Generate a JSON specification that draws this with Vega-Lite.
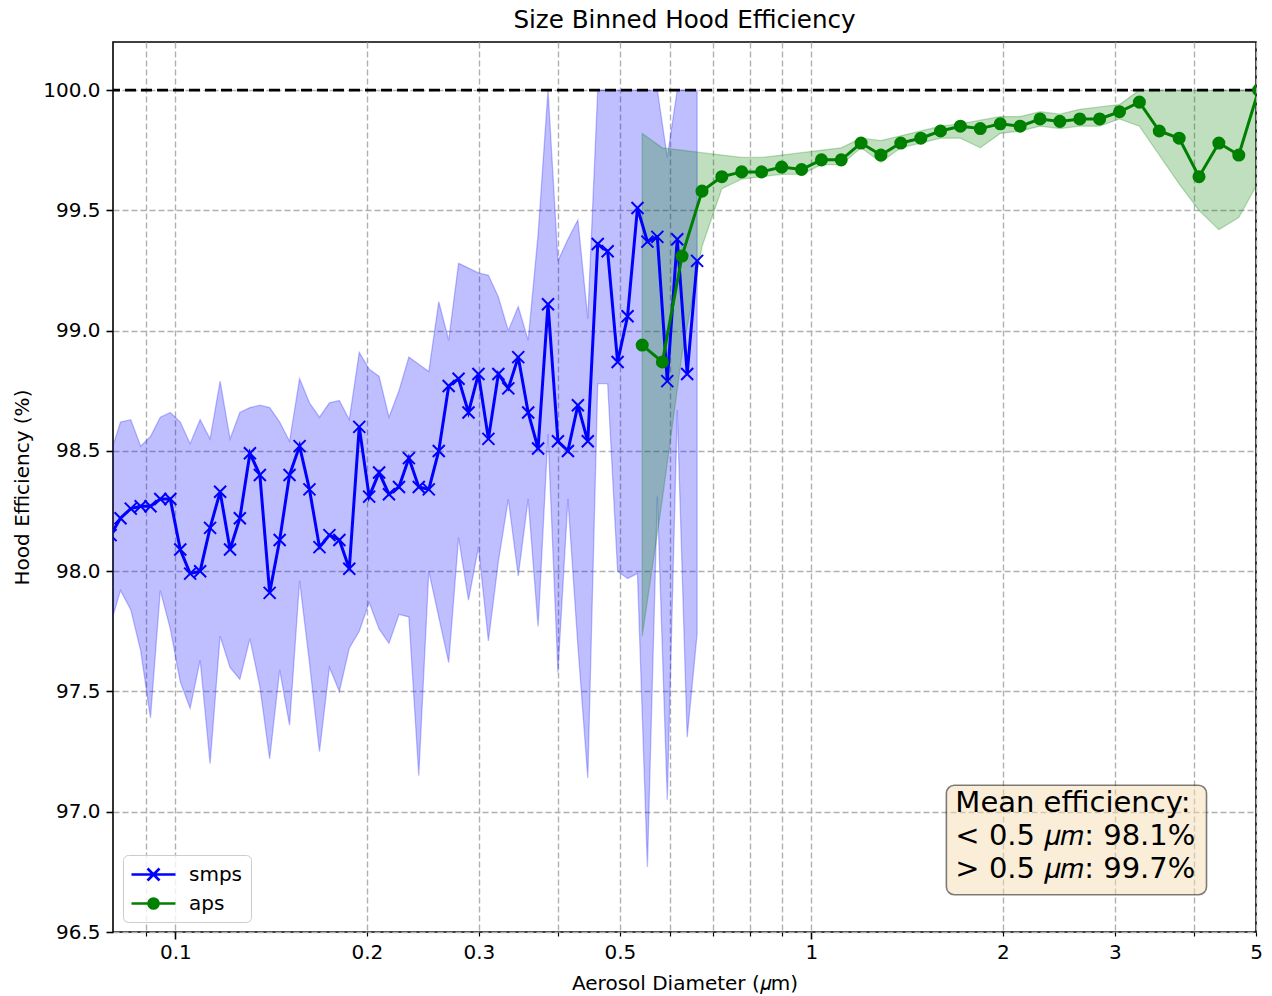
{
  "$schema": "https://vega.github.io/schema/vega-lite/v6.json",
  "width": 1143,
  "height": 890,
  "autosize": {"type": "none"},
  "padding": {"left": 113, "top": 42, "right": 16, "bottom": 64},
  "background": "white",
  "title": {"text": "Size Binned Hood Efficiency", "font": "DejaVu Sans", "fontSize": 24.6, "fontWeight": "normal", "color": "black", "offset": 8, "anchor": "middle"},
  "config": {
    "view": {"stroke": "black", "strokeWidth": 1.6},
    "axis": {
      "labelFont": "DejaVu Sans", "labelFontSize": 20, "labelColor": "black",
      "titleFont": "DejaVu Sans", "titleFontSize": 20, "titleFontWeight": "normal", "titleColor": "black",
      "tickColor": "black", "tickWidth": 1.6, "tickSize": 7, "domain": false,
      "grid": true, "gridColor": "#b0b0b0", "gridDash": [6, 3], "gridWidth": 1.4, "labelPadding": 6
    },
    "legend": {
      "orient": "bottom-left", "offset": 10, "labelFont": "DejaVu Sans", "labelFontSize": 20, "labelColor": "black",
      "fillColor": "rgba(255,255,255,0.8)", "strokeColor": "#cccccc", "cornerRadius": 5, "padding": 8,
      "rowPadding": 6, "symbolOffset": 11, "labelOffset": 24, "symbolSize": 400, "symbolStrokeWidth": 2.7
    }
  },
  "datasets": {
    "smps": [
      {"d": 0.0791, "eff": 98.15, "lo": 97.78, "hi": 98.49},
      {"d": 0.0820, "eff": 98.22, "lo": 97.92, "hi": 98.62},
      {"d": 0.0851, "eff": 98.26, "lo": 97.84, "hi": 98.63},
      {"d": 0.0882, "eff": 98.27, "lo": 97.67, "hi": 98.52},
      {"d": 0.0914, "eff": 98.27, "lo": 97.39, "hi": 98.56},
      {"d": 0.0947, "eff": 98.30, "lo": 97.92, "hi": 98.64},
      {"d": 0.0982, "eff": 98.30, "lo": 97.76, "hi": 98.66},
      {"d": 0.1018, "eff": 98.09, "lo": 97.54, "hi": 98.62},
      {"d": 0.1055, "eff": 97.99, "lo": 97.43, "hi": 98.53},
      {"d": 0.1094, "eff": 98.00, "lo": 97.63, "hi": 98.63},
      {"d": 0.1134, "eff": 98.18, "lo": 97.20, "hi": 98.55},
      {"d": 0.1176, "eff": 98.33, "lo": 97.73, "hi": 98.79},
      {"d": 0.1219, "eff": 98.09, "lo": 97.60, "hi": 98.55},
      {"d": 0.1263, "eff": 98.22, "lo": 97.55, "hi": 98.66},
      {"d": 0.1310, "eff": 98.49, "lo": 97.72, "hi": 98.68},
      {"d": 0.1358, "eff": 98.40, "lo": 97.52, "hi": 98.69},
      {"d": 0.1407, "eff": 97.91, "lo": 97.22, "hi": 98.68},
      {"d": 0.1459, "eff": 98.13, "lo": 97.59, "hi": 98.62},
      {"d": 0.1512, "eff": 98.40, "lo": 97.36, "hi": 98.54},
      {"d": 0.1568, "eff": 98.52, "lo": 97.96, "hi": 98.80},
      {"d": 0.1625, "eff": 98.34, "lo": 97.62, "hi": 98.70},
      {"d": 0.1685, "eff": 98.10, "lo": 97.25, "hi": 98.64},
      {"d": 0.1747, "eff": 98.15, "lo": 97.60, "hi": 98.70},
      {"d": 0.1811, "eff": 98.13, "lo": 97.50, "hi": 98.71},
      {"d": 0.1877, "eff": 98.01, "lo": 97.68, "hi": 98.63},
      {"d": 0.1946, "eff": 98.60, "lo": 97.75, "hi": 98.91},
      {"d": 0.2017, "eff": 98.31, "lo": 97.87, "hi": 98.84},
      {"d": 0.2091, "eff": 98.41, "lo": 97.76, "hi": 98.81},
      {"d": 0.2167, "eff": 98.32, "lo": 97.70, "hi": 98.64},
      {"d": 0.2247, "eff": 98.35, "lo": 97.82, "hi": 98.75},
      {"d": 0.2329, "eff": 98.47, "lo": 97.81, "hi": 98.89},
      {"d": 0.2414, "eff": 98.35, "lo": 97.15, "hi": 98.86},
      {"d": 0.2503, "eff": 98.34, "lo": 98.00, "hi": 98.83},
      {"d": 0.2595, "eff": 98.50, "lo": 97.81, "hi": 99.12},
      {"d": 0.2690, "eff": 98.77, "lo": 97.62, "hi": 98.96},
      {"d": 0.2788, "eff": 98.80, "lo": 98.14, "hi": 99.28},
      {"d": 0.2890, "eff": 98.66, "lo": 97.88, "hi": 99.26},
      {"d": 0.2996, "eff": 98.82, "lo": 98.10, "hi": 99.24},
      {"d": 0.3106, "eff": 98.55, "lo": 97.71, "hi": 99.23},
      {"d": 0.3220, "eff": 98.82, "lo": 98.04, "hi": 99.14},
      {"d": 0.3338, "eff": 98.76, "lo": 98.30, "hi": 99.00},
      {"d": 0.3460, "eff": 98.89, "lo": 97.98, "hi": 99.10},
      {"d": 0.3587, "eff": 98.66, "lo": 98.30, "hi": 98.96},
      {"d": 0.3718, "eff": 98.51, "lo": 97.77, "hi": 99.40},
      {"d": 0.3854, "eff": 99.11, "lo": 98.57, "hi": 100.0},
      {"d": 0.3995, "eff": 98.54, "lo": 97.58, "hi": 99.29},
      {"d": 0.4142, "eff": 98.50, "lo": 98.30, "hi": 99.38},
      {"d": 0.4294, "eff": 98.69, "lo": 97.69, "hi": 99.46},
      {"d": 0.4451, "eff": 98.54, "lo": 97.14, "hi": 99.05},
      {"d": 0.4614, "eff": 99.36, "lo": 98.78, "hi": 100.0},
      {"d": 0.4783, "eff": 99.33, "lo": 98.78, "hi": 100.0},
      {"d": 0.4958, "eff": 98.87, "lo": 98.00, "hi": 100.0},
      {"d": 0.5140, "eff": 99.06, "lo": 97.97, "hi": 100.0},
      {"d": 0.5328, "eff": 99.51, "lo": 97.99, "hi": 100.0},
      {"d": 0.5523, "eff": 99.37, "lo": 96.77, "hi": 100.0},
      {"d": 0.5725, "eff": 99.39, "lo": 98.31, "hi": 100.0},
      {"d": 0.5935, "eff": 98.79, "lo": 97.05, "hi": 99.72},
      {"d": 0.6153, "eff": 99.38, "lo": 98.67, "hi": 100.0},
      {"d": 0.6378, "eff": 98.82, "lo": 97.31, "hi": 100.0},
      {"d": 0.6612, "eff": 99.29, "lo": 97.74, "hi": 100.0}
    ],
    "aps": [
      {"d": 0.542, "eff": 98.94, "lo": 97.73, "hi": 99.82},
      {"d": 0.583, "eff": 98.87, "lo": 98.30, "hi": 99.76},
      {"d": 0.626, "eff": 99.31, "lo": 98.90, "hi": 99.75},
      {"d": 0.673, "eff": 99.58, "lo": 99.35, "hi": 99.74},
      {"d": 0.723, "eff": 99.64, "lo": 99.59, "hi": 99.73},
      {"d": 0.777, "eff": 99.66, "lo": 99.63, "hi": 99.72},
      {"d": 0.835, "eff": 99.66, "lo": 99.64, "hi": 99.72},
      {"d": 0.898, "eff": 99.68, "lo": 99.65, "hi": 99.73},
      {"d": 0.965, "eff": 99.67, "lo": 99.65, "hi": 99.74},
      {"d": 1.037, "eff": 99.71, "lo": 99.69, "hi": 99.75},
      {"d": 1.114, "eff": 99.71, "lo": 99.69, "hi": 99.76},
      {"d": 1.197, "eff": 99.78, "lo": 99.76, "hi": 99.80},
      {"d": 1.286, "eff": 99.73, "lo": 99.70, "hi": 99.79},
      {"d": 1.382, "eff": 99.78, "lo": 99.76, "hi": 99.81},
      {"d": 1.486, "eff": 99.80, "lo": 99.78, "hi": 99.83},
      {"d": 1.596, "eff": 99.83, "lo": 99.80, "hi": 99.85},
      {"d": 1.715, "eff": 99.85, "lo": 99.80, "hi": 99.86},
      {"d": 1.843, "eff": 99.84, "lo": 99.76, "hi": 99.875},
      {"d": 1.981, "eff": 99.86, "lo": 99.82, "hi": 99.89},
      {"d": 2.129, "eff": 99.85, "lo": 99.83, "hi": 99.89},
      {"d": 2.288, "eff": 99.88, "lo": 99.85, "hi": 99.91},
      {"d": 2.458, "eff": 99.87, "lo": 99.84, "hi": 99.90},
      {"d": 2.642, "eff": 99.88, "lo": 99.85, "hi": 99.92},
      {"d": 2.839, "eff": 99.88, "lo": 99.85, "hi": 99.93},
      {"d": 3.051, "eff": 99.91, "lo": 99.88, "hi": 99.94},
      {"d": 3.278, "eff": 99.95, "lo": 99.85, "hi": 100.0},
      {"d": 3.523, "eff": 99.83, "lo": 99.73, "hi": 100.0},
      {"d": 3.786, "eff": 99.80, "lo": 99.61, "hi": 100.0},
      {"d": 4.068, "eff": 99.64, "lo": 99.50, "hi": 100.0},
      {"d": 4.371, "eff": 99.78, "lo": 99.42, "hi": 100.0},
      {"d": 4.698, "eff": 99.73, "lo": 99.47, "hi": 100.0},
      {"d": 5.048, "eff": 100.0, "lo": 99.62, "hi": 100.0}
    ]
  },
  "layer": [
    {
      "data": {"name": "smps"},
      "mark": {"type": "area", "color": "#0000ff", "fillOpacity": 0.25, "stroke": "#0000ff", "strokeOpacity": 0.25, "strokeWidth": 1.3, "clip": true},
      "encoding": {
        "x": {"field": "d", "type": "quantitative",
          "scale": {"type": "log", "domain": [0.0798, 5], "nice": false},
          "axis": {
            "title": "Aerosol Diameter (𝜇m)", "titlePadding": 11,
            "values": [0.09, 0.1, 0.2, 0.3, 0.4, 0.5, 0.6, 0.7, 0.8, 0.9, 1, 2, 3, 4, 5],
            "format": "~g", "labelFlush": false, "labelOverlap": false, "labelBound": false,
            "labelExpr": "indexof([0.1,0.2,0.3,0.5,1,2,3,5], datum.value) >= 0 ? datum.label : ''",
            "tickSize": {"condition": {"test": "datum.value == 0.1 || datum.value == 1", "value": 7}, "value": 4},
            "tickWidth": {"condition": {"test": "datum.value == 0.1 || datum.value == 1", "value": 1.6}, "value": 1.2},
            "labelPadding": {"condition": {"test": "datum.value == 0.1 || datum.value == 1", "value": 3}, "value": 6}
          }},
        "y": {"field": "lo", "type": "quantitative",
          "scale": {"domain": [96.5, 100.2], "nice": false, "zero": false},
          "axis": {"title": "Hood Efficiency (%)", "titlePadding": 10, "values": [96.5, 97, 97.5, 98, 98.5, 99, 99.5, 100], "format": ".1f"}},
        "y2": {"field": "hi"}
      }
    },
    {
      "data": {"name": "aps"},
      "mark": {"type": "area", "color": "#008000", "fillOpacity": 0.25, "stroke": "#008000", "strokeOpacity": 0.25, "strokeWidth": 1.3, "clip": true},
      "encoding": {
        "x": {"field": "d", "type": "quantitative", "scale": {"type": "log", "domain": [0.0798, 5], "nice": false}},
        "y": {"field": "lo", "type": "quantitative", "scale": {"domain": [96.5, 100.2], "nice": false, "zero": false}},
        "y2": {"field": "hi"}
      }
    },
    {
      "data": {"values": [{"ref": 100}]},
      "mark": {"type": "rule", "color": "black", "strokeDash": [11, 5], "strokeWidth": 2.8},
      "encoding": {
        "y": {"field": "ref", "type": "quantitative", "scale": {"domain": [96.5, 100.2], "nice": false, "zero": false}}
      }
    },
    {
      "data": {"name": "smps"},
      "mark": {"type": "line", "color": "#0000ff", "strokeWidth": 3, "clip": true},
      "encoding": {
        "x": {"field": "d", "type": "quantitative", "scale": {"type": "log", "domain": [0.0798, 5], "nice": false}},
        "y": {"field": "eff", "type": "quantitative", "scale": {"domain": [96.5, 100.2], "nice": false, "zero": false}}
      }
    },
    {
      "data": {"name": "smps"},
      "mark": {"type": "point", "shape": "M-1,-1L1,1M-1,1L1,-1", "size": 144, "filled": false, "color": "#0000ff", "strokeWidth": 2, "opacity": 1, "clip": true},
      "encoding": {
        "x": {"field": "d", "type": "quantitative", "scale": {"type": "log", "domain": [0.0798, 5], "nice": false}},
        "y": {"field": "eff", "type": "quantitative", "scale": {"domain": [96.5, 100.2], "nice": false, "zero": false}}
      }
    },
    {
      "data": {"name": "aps"},
      "mark": {"type": "line", "color": "#008000", "strokeWidth": 3, "clip": true},
      "encoding": {
        "x": {"field": "d", "type": "quantitative", "scale": {"type": "log", "domain": [0.0798, 5], "nice": false}},
        "y": {"field": "eff", "type": "quantitative", "scale": {"domain": [96.5, 100.2], "nice": false, "zero": false}}
      }
    },
    {
      "data": {"name": "aps"},
      "mark": {"type": "point", "shape": "circle", "size": 170, "filled": true, "color": "#008000", "opacity": 1, "clip": true},
      "encoding": {
        "x": {"field": "d", "type": "quantitative", "scale": {"type": "log", "domain": [0.0798, 5], "nice": false}},
        "y": {"field": "eff", "type": "quantitative", "scale": {"domain": [96.5, 100.2], "nice": false, "zero": false}}
      }
    },
    {
      "data": {"values": []},
      "mark": {"type": "point", "filled": true, "size": 400, "opacity": 1, "strokeWidth": 2.7},
      "encoding": {
        "fill": {"field": "series", "type": "nominal",
          "scale": {"domain": ["smps", "aps"], "range": ["#0000ff", "#008000"]},
          "legend": {"title": null}},
        "stroke": {"field": "series", "type": "nominal",
          "scale": {"domain": ["smps", "aps"], "range": ["#0000ff", "#008000"]},
          "legend": {"title": null}},
        "shape": {"field": "series", "type": "nominal",
          "scale": {"domain": ["smps", "aps"], "range": [
            "M-2.2,0H2.2M-0.6,-0.6L0.6,0.6M-0.6,0.6L0.6,-0.6",
            "M-2.2,0H2.2M-0.5,0A0.5,0.5 0 1,1 0.5,0A0.5,0.5 0 1,1 -0.5,0Z"
          ]},
          "legend": {"title": null}}
      }
    },
    {
      "data": {"values": [{"note": "mean efficiency"}]},
      "mark": {"type": "rect", "fill": "#f5deb3", "fillOpacity": 0.5, "stroke": "black", "strokeOpacity": 0.5, "strokeWidth": 1.6, "cornerRadius": 8},
      "encoding": {
        "x": {"datum": 1.63, "type": "quantitative", "scale": {"type": "log", "domain": [0.0798, 5], "nice": false}},
        "x2": {"datum": 4.18},
        "y": {"datum": 97.11, "type": "quantitative", "scale": {"domain": [96.5, 100.2], "nice": false, "zero": false}},
        "y2": {"datum": 96.655}
      }
    },
    {
      "data": {"values": [{"note": "mean efficiency"}]},
      "mark": {"type": "text", "text": ["Mean efficiency:", "< 0.5 𝜇𝑚: 98.1%", "> 0.5 𝜇𝑚: 99.7%"], "font": "DejaVu Sans", "fontSize": 29, "align": "left", "baseline": "alphabetic", "lineHeight": 33, "color": "black"},
      "encoding": {
        "x": {"datum": 1.684, "type": "quantitative", "scale": {"type": "log", "domain": [0.0798, 5], "nice": false}},
        "y": {"datum": 97.0, "type": "quantitative", "scale": {"domain": [96.5, 100.2], "nice": false, "zero": false}}
      }
    }
  ]
}
